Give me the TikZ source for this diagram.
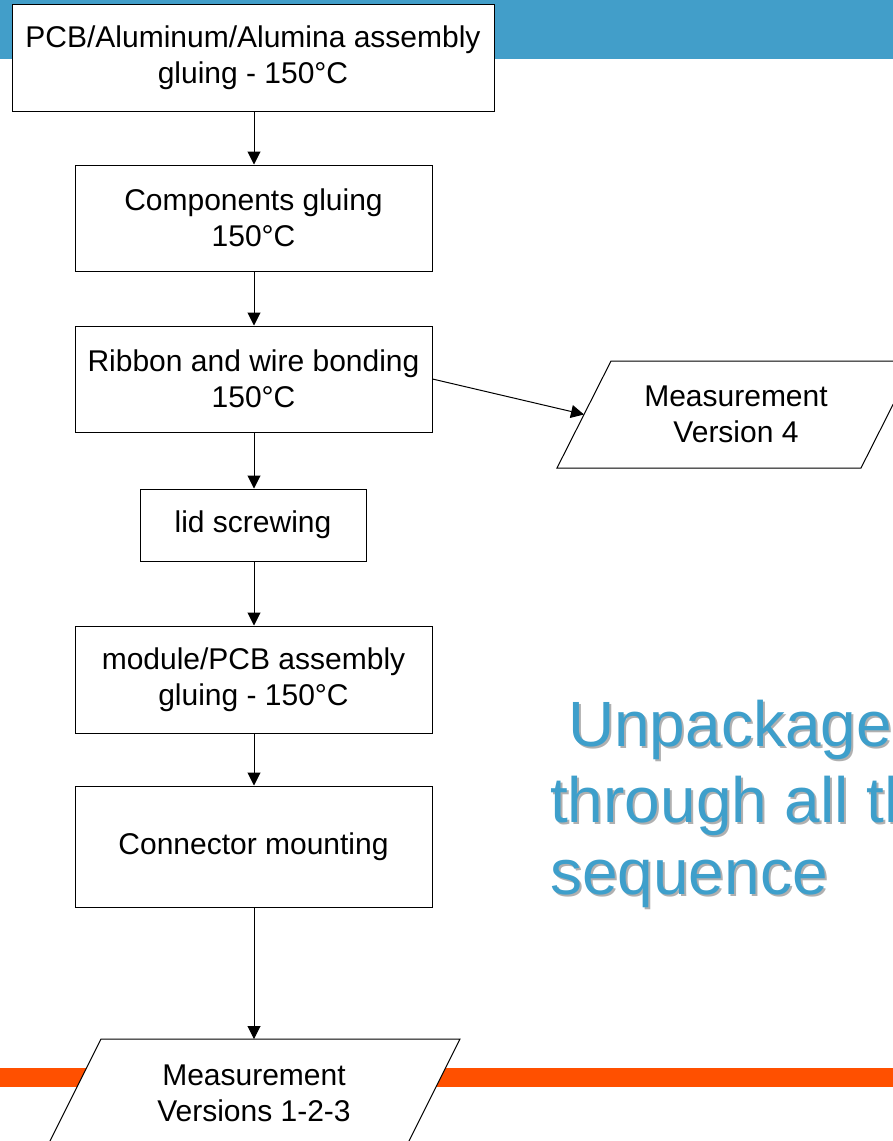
\documentclass[tikz,border=0pt]{standalone}
\usepackage{fontspec}
\setmainfont{Liberation Sans}
\usetikzlibrary{arrows.meta}
\definecolor{barblue}{RGB}{66,158,201}
\definecolor{barorange}{RGB}{255,80,0}
\definecolor{bigblue}{RGB}{62,159,203}
\definecolor{shadowgray}{RGB}{176,176,176}
\tikzset{
  x=1pt,y=-1pt,
  stepbox/.style={draw=black,fill=white,line width=1pt,align=center,inner sep=0pt,
    font=\fontsize{30}{36}\selectfont},
  flow/.style={draw=black,line width=1pt,-{Triangle[length=13pt,width=13pt]}},
  iobox/.style={draw=black,fill=white,line width=1pt},
  iotext/.style={align=center,inner sep=0pt,font=\fontsize{30}{36}\selectfont},
  bigtext/.style={anchor=base west,inner sep=0pt,font=\fontsize{64}{74}\selectfont,text=bigblue},
  bigshadow/.style={anchor=base west,inner sep=0pt,font=\fontsize{64}{74}\selectfont,text=shadowgray}
}
\begin{document}
\begin{tikzpicture}
\useasboundingbox (0,0) rectangle (893,1141);
\clip (0,0) rectangle (893,1141);
% bars
\fill[barblue] (0,0) rectangle (893,59);
\fill[barorange] (0,1068) rectangle (893,1087);
% boxes
\node[stepbox,minimum width=482pt,minimum height=107pt] (b1) at (253,57.5) {PCB/Aluminum/Alumina assembly\\gluing - 150°C};
\node[stepbox,minimum width=357pt,minimum height=106pt] (b2) at (253.5,218) {Components gluing\\150°C};
\node[stepbox,minimum width=357pt,minimum height=106pt] (b3) at (253.5,379) {Ribbon and wire bonding\\150°C};
\node[stepbox,minimum width=226pt,minimum height=72pt] (b4) at (253,525) {lid screwing};
\node[stepbox,minimum width=357pt,minimum height=107pt] (b5) at (253.5,679.5) {module/PCB assembly\\gluing - 150°C};
\node[stepbox,minimum width=357pt,minimum height=121pt] (b6) at (253.5,846.5) {Connector mounting};
% parallelogram right
\draw[iobox] (611,361) -- (915,361) -- (861,468) -- (557,468) -- cycle;
\coordinate (m4in) at (584,414.5);
\node[iotext] (m4) at (736,414) {Measurement\\Version 4};
% parallelogram bottom
\draw[iobox] (101,1039) -- (460,1039) -- (406.5,1146) -- (47.5,1146) -- cycle;
\coordinate (m123top) at (254,1039);
\node[iotext] (m123) at (254,1093) {Measurement\\Versions 1-2-3};
% connectors
\draw[flow] (b1.south -| 254,0) -- (b2.north -| 254,0);
\draw[flow] (b2.south -| 254,0) -- (b3.north -| 254,0);
\draw[flow] (b3.south -| 254,0) -- (b4.north -| 254,0);
\draw[flow] (b4.south -| 254,0) -- (b5.north -| 254,0);
\draw[flow] (b5.south -| 254,0) -- (b6.north -| 254,0);
\draw[flow] (b6.south -| 254,0) -- (m123top);
\draw[flow] (b3.east) -- (m4in);
% big text with shadow
\node[bigshadow] (s1) at (570,748) {Unpackage};
\node[bigshadow] (s2) at (552,824) {through all th};
\node[bigshadow] (s3) at (552,896) {sequence};
\node[bigtext] (t1) at (568,746) {Unpackage};
\node[bigtext] (t2) at (550,822) {through all th};
\node[bigtext] (t3) at (550,894) {sequence};
\end{tikzpicture}
\end{document}
